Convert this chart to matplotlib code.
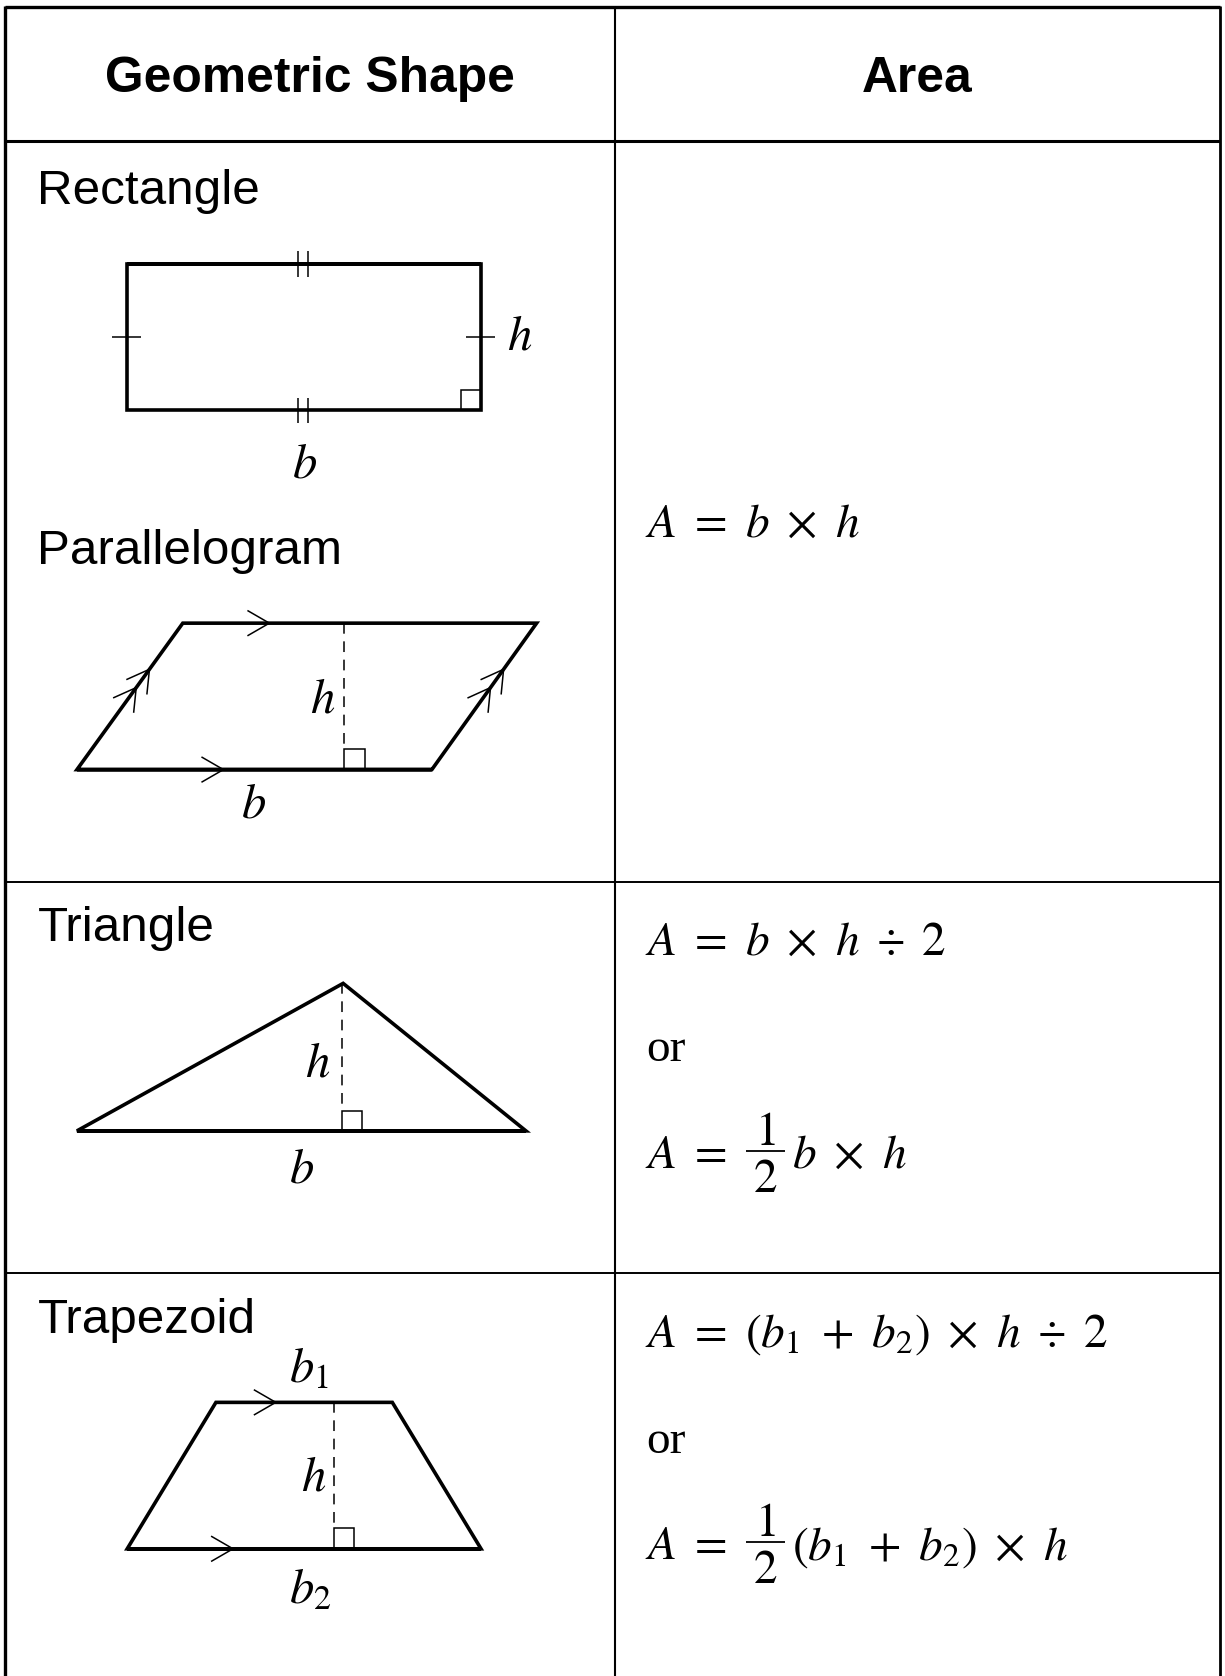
import matplotlib.pyplot as plt
import numpy as np

plt.rcParams['mathtext.fontset'] = 'stix'

# page is laid out in units of the reference picture (1146 x 1568)
W, H = 1146, 1568

# table grid
col_x = [5, 575, 1141]
row_y = [7, 132, 825, 1191]

headers = ['Geometric Shape', 'Area']
shape_names = ['Rectangle', 'Parallelogram', 'Triangle', 'Trapezoid']
name_baselines = [191, 528, 880, 1247]

# shapes (vertices)
rect_x = [119, 450, 450, 119]
rect_y = [247, 247, 384, 384]
para_x = [72, 404, 502, 171]
para_y = [720, 720, 583, 583]
tri_x = [72, 492, 321]
tri_y = [1058, 1058, 920]
trap_x = [119, 450, 367, 202]
trap_y = [1449, 1449, 1312, 1312]

# heights (dashed) : x, top, bottom
heights = [(322, 583, 720), (320, 920, 1058), (312, 1312, 1449)]
sq = 19

# parallel marks: apex x, y
chevrons = [(252, 583), (209, 720), (258, 1312), (218, 1449)]
side_frac = [0.56, 0.685]

# labels on shapes: text, x, baseline, align
shape_labels = [
    ('$h$', 486, 327, 'center'), ('$b$', 285, 447, 'center'),
    ('$h$', 302, 667, 'center'), ('$b$', 237, 765, 'center'),
    ('$h$', 297, 1007, 'center'), ('$b$', 282, 1106, 'center'),
    ('$b_1$', 270, 1293, 'left'), ('$h$', 293, 1394, 'center'),
    ('$b_2$', 270, 1500, 'left'),
]

S = r'\ '
plain_formulas = [
    ('$A' + S + '=' + S + 'b' + S + r'\times' + S + 'h$', 502),
    ('$A' + S + '=' + S + 'b' + S + r'\times' + S + 'h' + S + r'\div' + S + '2$', 893),
    ('$A' + S + '=' + S + '(b_1' + S + '+' + S + 'b_2)' + S + r'\times' + S + 'h' + S + r'\div' + S + '2$', 1260),
]
# A = 1/2 ... : prefix, rest, baseline
frac_formulas = [
    ('$A' + S + '=$', '$b' + S + r'\times' + S + 'h$', 1093),
    ('$A' + S + '=$', '$(b_1' + S + '+' + S + 'b_2)' + S + r'\times' + S + 'h$', 1459),
]
or_baselines = [993, 1359]

FX = 603      # left of the formulas
FRAC_C = 716  # centre of the 1/2
REST_X = 741

fig = plt.figure(figsize=(12.25, 16.76), dpi=100)
ax = fig.add_axes([0, 0, 1, 1])
ax.set_xlim(0, W)
ax.set_ylim(H, 0)
ax.axis('off')

K = 'black'
LW = 2.6
THIN = 1.1
FS = 34


def seg(x0, y0, x1, y1, lw=THIN, **kw):
    ax.plot([x0, x1], [y0, y1], color=K, lw=lw, solid_capstyle='butt', **kw)


def poly(xs, ys):
    ax.plot(list(xs) + [xs[0], xs[1]], list(ys) + [ys[0], ys[1]], color=K, lw=LW,
            solid_joinstyle='miter', solid_capstyle='butt')


def chevron(x, y, d, length=23, ang=30):
    d = np.array(d, dtype=float)
    d = d / np.hypot(*d)
    pts = []
    for s in (1, -1):
        a = np.radians(s * ang)
        r = np.array([[np.cos(a), -np.sin(a)], [np.sin(a), np.cos(a)]])
        pts.append(np.array([x, y]) - length * r @ d)
    ax.plot([pts[0][0], x, pts[1][0]], [pts[0][1], y, pts[1][1]], color=K, lw=THIN,
            solid_joinstyle='miter')


def right_angle(x, y, sx=1):
    ax.plot([x, x, x + sx * sq, x + sx * sq], [y, y - sq, y - sq, y], color=K, lw=THIN,
            solid_joinstyle='miter')


# table lines
seg(col_x[0], row_y[0], col_x[2], row_y[0], lw=2.4)
seg(col_x[0], row_y[1], col_x[2], row_y[1], lw=2.2)
for y in row_y[2:]:
    seg(col_x[0], y, col_x[2], y, lw=1.4)
seg(col_x[0], row_y[0] - 1, col_x[0], H, lw=2.4)
seg(col_x[1], row_y[0], col_x[1], H, lw=1.5)
seg(col_x[2], row_y[0] - 1, col_x[2], H, lw=2.0)

# headers
for i, t in enumerate(headers):
    ax.text((col_x[i] + col_x[i + 1]) / 2, 86, t, ha='center', va='baseline',
            fontsize=35.8, fontweight='bold', family='Liberation Sans')

for t, yb in zip(shape_names, name_baselines):
    ax.text(35, yb, t, ha='left', va='baseline', fontsize=35.6, family='Liberation Sans')

# rectangle
poly(rect_x, rect_y)
for xt in (279, 288):
    seg(xt, rect_y[0] - 12, xt, rect_y[0] + 12)
    seg(xt, rect_y[2] - 12, xt, rect_y[2] + 12)
ym = (rect_y[0] + rect_y[2]) / 2
seg(rect_x[0] - 14, ym, rect_x[0] + 13, ym)
seg(rect_x[1] - 14, ym, rect_x[1] + 13, ym)
right_angle(rect_x[1], rect_y[2], sx=-1)

# parallelogram, triangle, trapezoid
poly(para_x, para_y)
poly(tri_x, tri_y)
poly(trap_x, trap_y)

for x, top, bot in heights:
    ax.plot([x, x], [top, bot - sq], color=K, lw=THIN, linestyle=(0, (7, 5)))
    right_angle(x, bot)

for x, y in chevrons:
    chevron(x, y, (1, 0))

# double marks on slanted sides of the parallelogram
for (x0, y0), (x1, y1) in [((para_x[0], para_y[0]), (para_x[3], para_y[3])),
                           ((para_x[1], para_y[1]), (para_x[2], para_y[2]))]:
    for f in side_frac:
        chevron(x0 + f * (x1 - x0), y0 + f * (y1 - y0), (x1 - x0, y1 - y0))

for t, x, yb, ha in shape_labels:
    ax.text(x, yb, t, ha=ha, va='baseline', fontsize=35)

# area formulas
for t, yb in plain_formulas:
    ax.text(FX, yb, t, ha='left', va='baseline', fontsize=FS)

for pre, rest, yb in frac_formulas:
    ax.text(FX, yb, pre, ha='left', va='baseline', fontsize=FS)
    bar = yb - 16
    seg(FRAC_C - 18, bar, FRAC_C + 18, bar, lw=1.3)
    ax.text(FRAC_C, bar - 6, '$1$', ha='center', va='baseline', fontsize=FS)
    ax.text(FRAC_C, yb + 22, '$2$', ha='center', va='baseline', fontsize=FS)
    ax.text(REST_X, yb, rest, ha='left', va='baseline', fontsize=FS)

for yb in or_baselines:
    ax.text(FX + 2, yb, 'or', ha='left', va='baseline', fontsize=FS, family='Liberation Serif')

fig.savefig('out.png', dpi=100)
